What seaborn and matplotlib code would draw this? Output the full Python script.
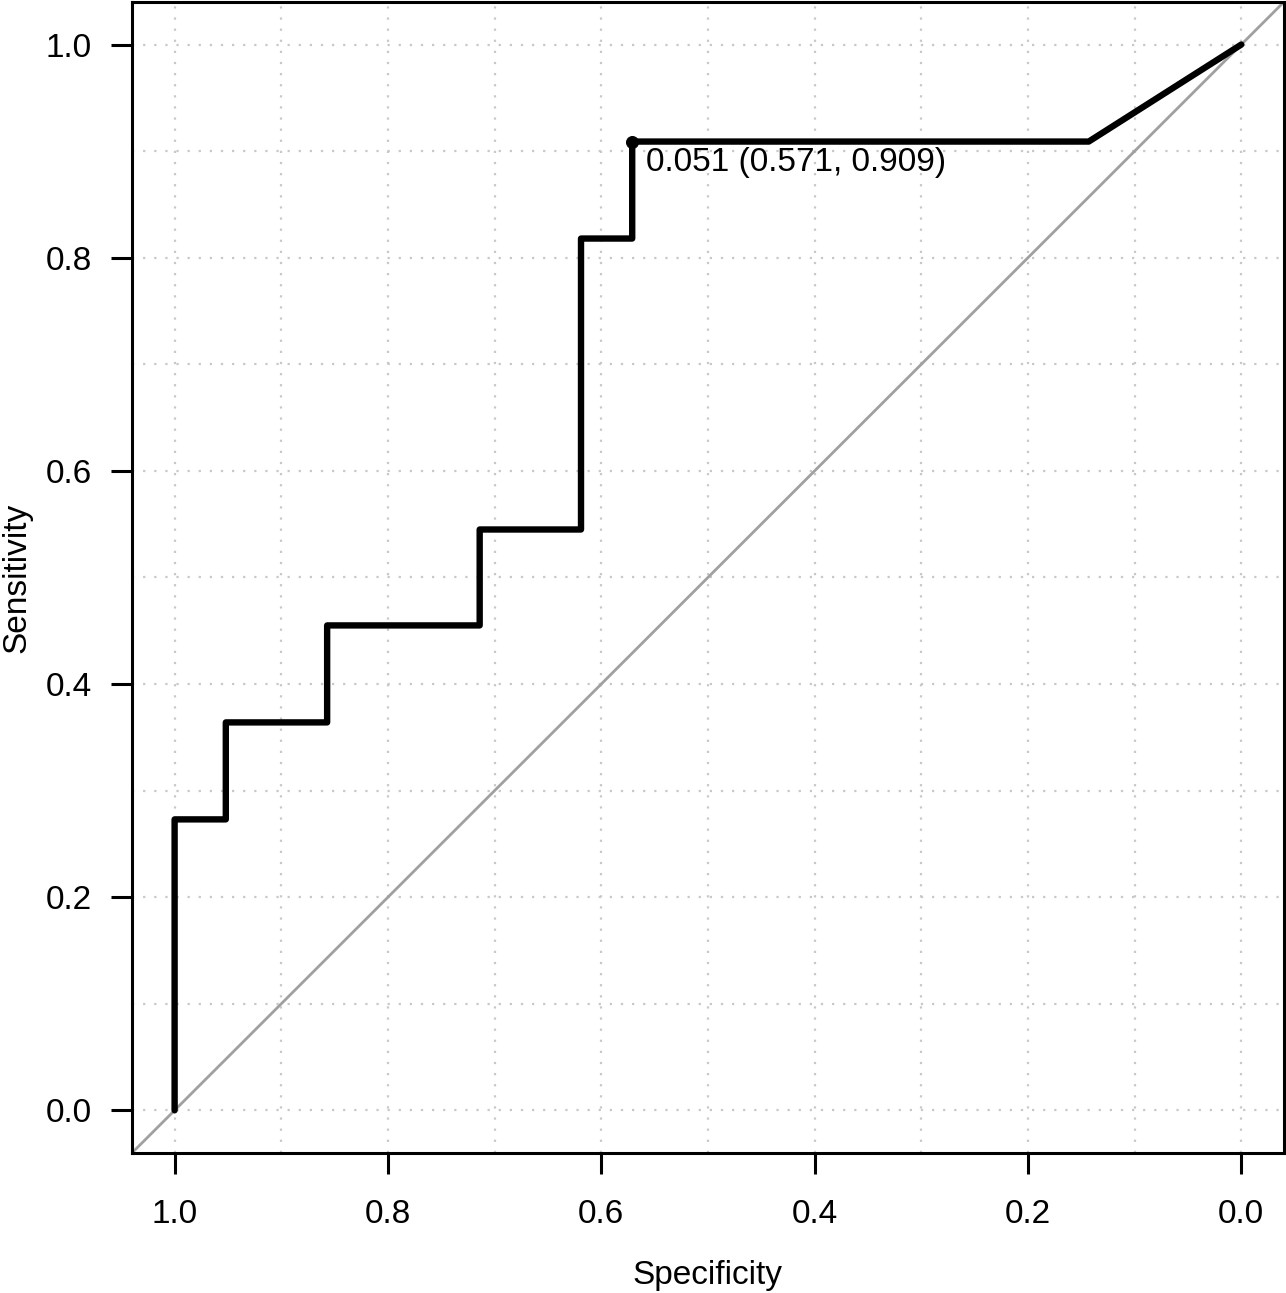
import numpy as np
import pandas as pd
import seaborn as sns
import matplotlib.pyplot as plt

# ROC curve points (specificity, sensitivity)
specificity = [1.000, 1.000, 0.952, 0.952, 0.857, 0.857, 0.714, 0.714,
               0.619, 0.619, 0.571, 0.571, 0.143, 0.000]
sensitivity = [0.000, 0.273, 0.273, 0.364, 0.364, 0.455, 0.455, 0.545,
               0.545, 0.818, 0.818, 0.909, 0.909, 1.000]

# best threshold point
best_spec = [0.571]
best_sens = [0.909]
best_label = "0.051 (0.571, 0.909)"

tick_vals = [0.0, 0.2, 0.4, 0.6, 0.8, 1.0]
grid_vals = np.round(np.arange(0, 1.01, 0.1), 1)

sns.set_style("white")
plt.rcParams["font.family"] = ["Liberation Sans", "DejaVu Sans"]
plt.rcParams["text.color"] = "black"

df = pd.DataFrame({"Specificity": specificity, "Sensitivity": sensitivity})

fig = plt.figure(figsize=(12.86, 12.93), dpi=100)
ax = fig.add_axes([0.1026, 0.1083, 0.8958, 0.8902])

# background grid
for g in grid_vals:
    ax.axvline(g, color="#c8c8c8", lw=1.6, ls=(0, (1, 4)), zorder=0)
    ax.axhline(g, color="#c8c8c8", lw=1.6, ls=(0, (1, 4)), zorder=0)

# diagonal reference
ax.axline((1, 0), (0, 1), color="#a0a0a0", lw=2.0, zorder=1)

sns.lineplot(data=df, x="Specificity", y="Sensitivity", sort=False,
             estimator=None, color="black", lw=4.6, ax=ax, zorder=3)
sns.scatterplot(x=best_spec, y=best_sens, color="black", s=75, ax=ax,
                zorder=4, edgecolor="black")
ax.annotate(best_label, (best_spec[0], best_sens[0]), xytext=(10, -4),
            textcoords="offset points", ha="left", va="top", fontsize=24,
            color="black")

ax.set_xlim(1.04, -0.04)
ax.set_ylim(-0.04, 1.04)
ax.set_xticks(tick_vals)
ax.set_yticks(tick_vals)
ax.set_xticklabels([f"{v:.1f}" for v in tick_vals])
ax.set_yticklabels([f"{v:.1f}" for v in tick_vals])
ax.tick_params(axis="both", direction="out", length=15, width=2.2,
               labelsize=24, color="black", labelcolor="black",
               left=True, bottom=True)
ax.tick_params(axis="x", pad=18)
ax.tick_params(axis="y", pad=14)

for sp in ax.spines.values():
    sp.set_color("black")
    sp.set_linewidth(2.2)

ax.set_xlabel("Specificity", fontsize=24, labelpad=22, color="black")
ax.set_ylabel("Sensitivity", fontsize=24, labelpad=9, color="black")

fig.savefig("out.png", dpi=100)
